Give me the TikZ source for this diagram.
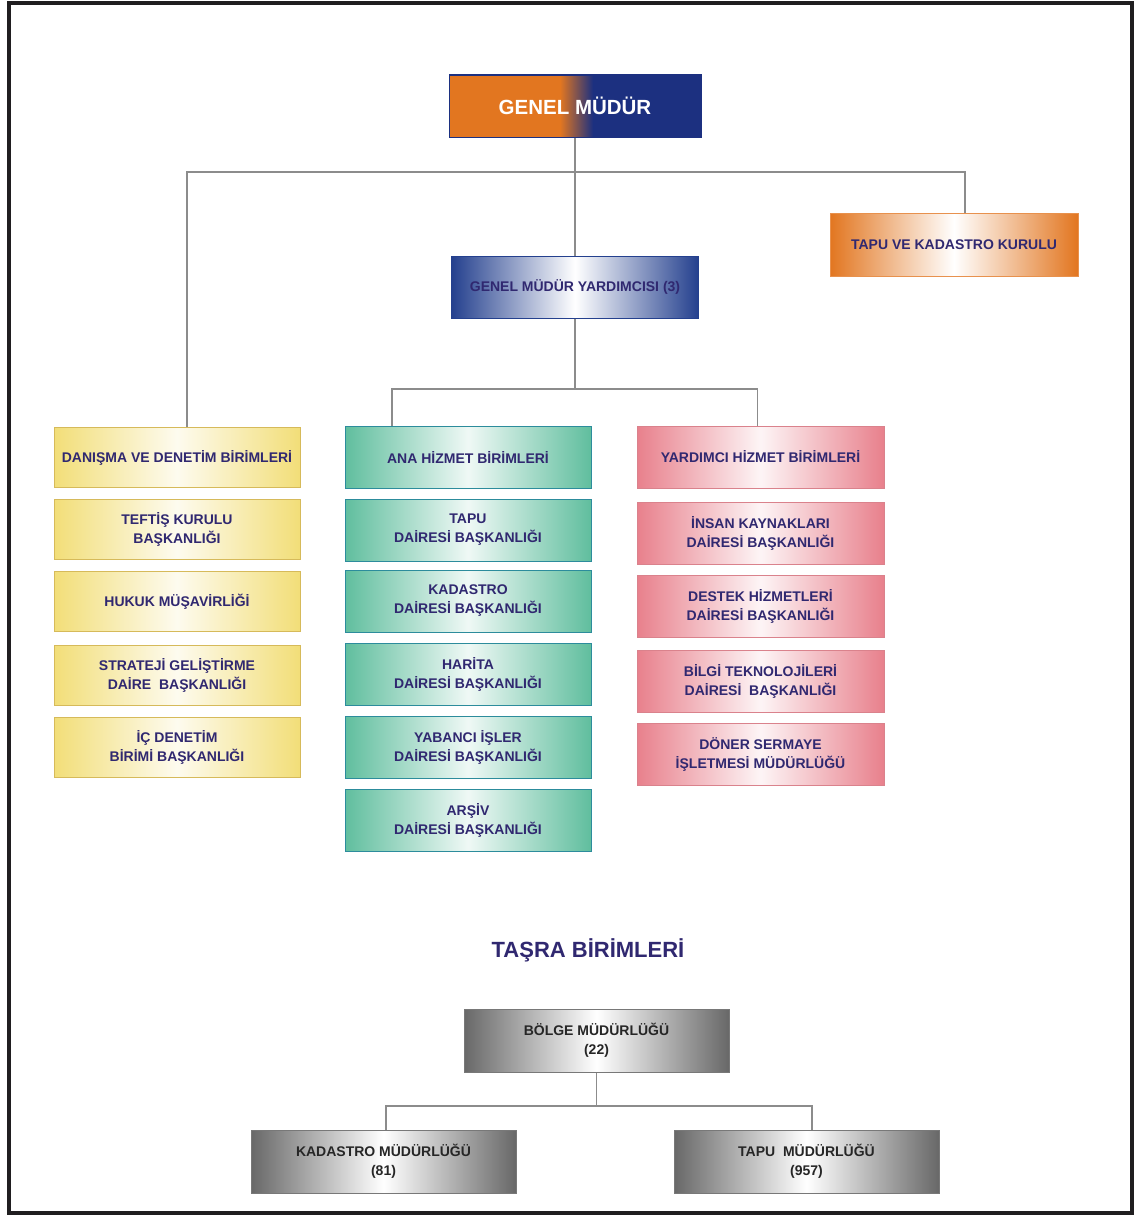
\documentclass[tikz,border=0pt]{standalone}
\usepackage{fontspec}
\setmainfont{Liberation Sans}
\usepackage{tikz}

\definecolor{ink}{RGB}{48,40,112}
\definecolor{framegray}{RGB}{32,30,32}
\definecolor{linegray}{RGB}{140,140,140}
\definecolor{gmorange}{RGB}{226,118,32}
\definecolor{gmblue}{RGB}{28,48,128}
\definecolor{gmyblue}{RGB}{36,64,142}
\definecolor{yfill}{RGB}{242,222,120}
\definecolor{yborder}{RGB}{214,186,90}
\definecolor{tfill}{RGB}{96,190,158}
\definecolor{tborder}{RGB}{44,140,156}
\definecolor{pfill}{RGB}{232,128,140}
\definecolor{pborder}{RGB}{218,130,140}
\definecolor{gfill}{RGB}{104,104,104}
\definecolor{gborder}{RGB}{120,120,120}

\tikzset{
  unitbox/.style={draw, line width=1pt, minimum height=62pt, inner sep=2pt, align=center,
    font=\bfseries\fontsize{14}{19}\selectfont, text=ink},
  yellowbox/.style={unitbox, draw=yborder, minimum width=246pt, minimum height=60pt,
    left color=yfill, right color=yfill, middle color=yfill!12},
  tealbox/.style={unitbox, draw=tborder, minimum width=246pt,
    left color=tfill, right color=tfill, middle color=tfill!10},
  pinkbox/.style={unitbox, draw=pborder, minimum width=247pt,
    left color=pfill, right color=pfill, middle color=pfill!8},
  graybox/.style={unitbox, draw=gborder, minimum width=265pt, minimum height=63pt,
    left color=gfill, right color=gfill, middle color=white, text=black!85},
  link/.style={draw=linegray, line width=1.8pt}
}

\begin{document}
\begin{tikzpicture}[x=1pt,y=-1pt]
   \useasboundingbox (0,0) rectangle (1134,1215);
   \fill[white] (0,0) rectangle (1134,1215);
   \draw[framegray, line width=4pt] (9,3) rectangle (1132,1213);

   \draw (575,106) node[draw=gmblue, line width=1pt, minimum width=252pt, minimum height=62pt,
      path picture={
        \fill[gmorange] (path picture bounding box.south west) rectangle ([xshift=-15pt]path picture bounding box.north);
        \fill[gmblue] ([xshift=18pt]path picture bounding box.south) rectangle (path picture bounding box.north east);
        \shade[left color=gmorange, right color=gmblue] ([xshift=-15pt]path picture bounding box.south) rectangle ([xshift=18pt]path picture bounding box.north);
      },
      text=white, font=\bfseries\fontsize{20.5}{24}\selectfont] (gm) {GENEL MÜDÜR};
   \draw (575,287) node[unitbox, draw=gmyblue, minimum width=247pt,
      left color=gmyblue, right color=gmyblue, middle color=white] (gmy) {GENEL MÜDÜR YARDIMCISI (3)};
   \draw (954,244.5) node[unitbox, draw=gmorange!80, minimum width=248pt, minimum height=63pt,
      left color=gmorange, right color=gmorange, middle color=white] (kurul) {TAPU VE KADASTRO KURULU};

   \draw (177,457.5) node[yellowbox] (danisma) {DANIŞMA VE DENETİM BİRİMLERİ};
   \draw (177,529) node[yellowbox] (teftis) {TEFTİŞ KURULU\\BAŞKANLIĞI};
   \draw (177,601.5) node[yellowbox] (hukuk) {HUKUK MÜŞAVİRLİĞİ};
   \draw (177,675) node[yellowbox] (strateji) {STRATEJİ GELİŞTİRME\\DAİRE\ \ BAŞKANLIĞI};
   \draw (177,747.5) node[yellowbox] (icdenetim) {İÇ DENETİM\\BİRİMİ BAŞKANLIĞI};

   \draw (468,457) node[tealbox] (ana) {ANA HİZMET BİRİMLERİ};
   \draw (468,530) node[tealbox] (tapudb) {TAPU\\DAİRESİ BAŞKANLIĞI};
   \draw (468,601) node[tealbox] (kadastrodb) {KADASTRO\\DAİRESİ BAŞKANLIĞI};
   \draw (468,674) node[tealbox] (harita) {HARİTA\\DAİRESİ BAŞKANLIĞI};
   \draw (468,747) node[tealbox] (yabanci) {YABANCI İŞLER\\DAİRESİ BAŞKANLIĞI};
   \draw (468,820) node[tealbox] (arsiv) {ARŞİV\\DAİRESİ BAŞKANLIĞI};

   \draw (760.5,457) node[pinkbox] (yardimci) {YARDIMCI HİZMET BİRİMLERİ};
   \draw (760.5,533) node[pinkbox] (insan) {İNSAN KAYNAKLARI\\DAİRESİ BAŞKANLIĞI};
   \draw (760.5,606) node[pinkbox] (destek) {DESTEK HİZMETLERİ\\DAİRESİ BAŞKANLIĞI};
   \draw (760.5,681) node[pinkbox] (bilgi) {BİLGİ TEKNOLOJİLERİ\\DAİRESİ\ \ BAŞKANLIĞI};
   \draw (760.5,754) node[pinkbox] (doner) {DÖNER SERMAYE\\İŞLETMESİ MÜDÜRLÜĞÜ};

   \draw (588,950) node[text=ink, font=\bfseries\fontsize{22}{26}\selectfont] (tasra) {TAŞRA BİRİMLERİ};
   \draw (596.5,1040.5) node[graybox] (bolge) {BÖLGE MÜDÜRLÜĞÜ\\(22)};
   \draw (383.5,1161.5) node[graybox] (kadmud) {KADASTRO MÜDÜRLÜĞÜ\\(81)};
   \draw (806.5,1161.5) node[graybox] (tapumud) {TAPU\ \ MÜDÜRLÜĞÜ\\(957)};

   \coordinate (bus1) at (575,172);
   \coordinate (bus2) at (575,389);
   \coordinate (bus3) at (596.5,1106);

   \path[link] (gm) -- (gmy);
   \path[link] (bus1) -| ([xshift=10pt]danisma.north);
   \path[link] (bus1) -| ([xshift=11pt]kurul.north);
   \path[link] (gmy) -- (bus2);
   \path[link] (bus2) -| ([xshift=-76pt]ana.north);
   \path[link] (bus2) -| ([xshift=-3pt]yardimci.north);
   \path[link] (bolge) -- (bus3);
   \path[link] (bus3) -| ([xshift=2.5pt]kadmud.north);
   \path[link] (bus3) -| ([xshift=5.5pt]tapumud.north);
\end{tikzpicture}
\end{document}
